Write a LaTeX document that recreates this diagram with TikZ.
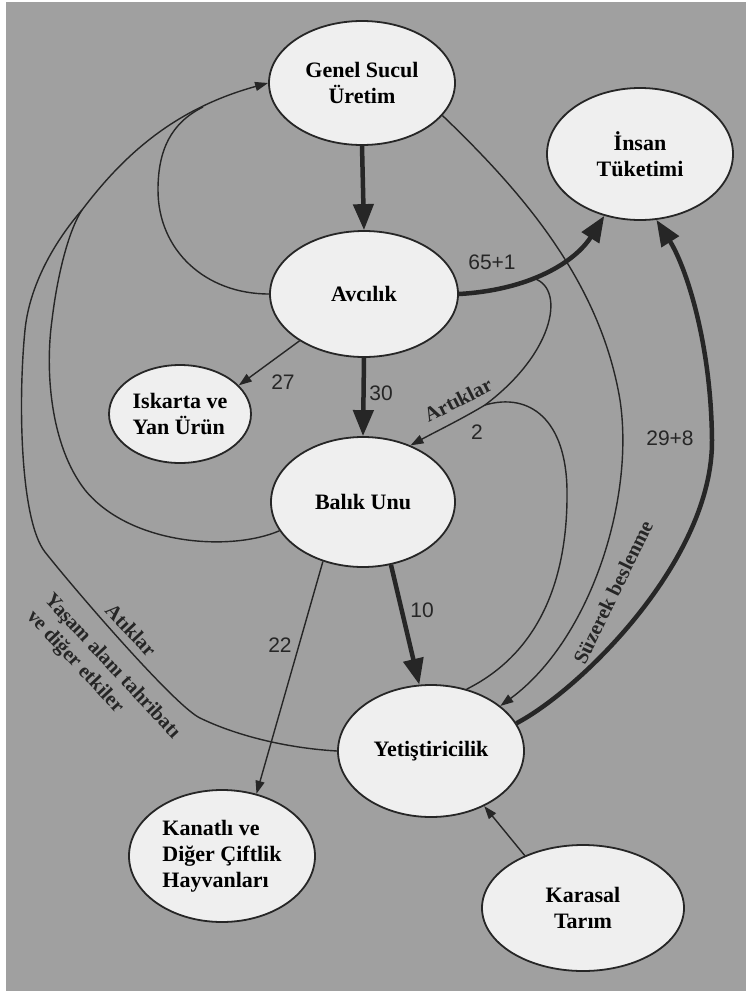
\documentclass[tikz,border=0pt]{standalone}
\usepackage{fontspec}
\setmainfont{Liberation Serif}
\newfontfamily\numfont{Liberation Sans}
\usetikzlibrary{shapes.geometric,arrows.meta}
\definecolor{bg}{HTML}{A0A0A0}
\definecolor{nodefill}{HTML}{EFEFEF}
\definecolor{ink}{HTML}{262626}
\begin{document}
\begin{tikzpicture}[x=1pt,y=-1pt,
  ell/.style={ellipse, draw=ink, line width=1.8pt, fill=nodefill, inner sep=0pt, align=center,
    font=\fontsize{22}{26}\selectfont\bfseries},
  thinline/.style={draw=ink, line width=1.4pt},
  thinarrow/.style={thinline, -{Triangle[length=13pt,width=9pt]}},
  thickarrow/.style={draw=ink, line width=4.5pt, -{Triangle[length=26pt,width=20pt]}},
  numlab/.style={font=\fontsize{21}{24}\numfont, text=ink, inner sep=0pt},
  curvelab/.style={font=\fontsize{20.5}{24}\selectfont\bfseries, text=ink, inner sep=0pt},
]
\useasboundingbox (0,0) rectangle (746,991);
\fill[white] (0,0) rectangle (746,991);
\fill[bg] (6,2) rectangle (746,991);

% nodes
\node[ell, minimum width=186pt, minimum height=124pt] (gen) at (362,83) {Genel Sucul\\Üretim};
\node[ell, minimum width=186pt, minimum height=132pt] (ins) at (640,154) {İnsan\\Tüketimi};
\node[ell, minimum width=188pt, minimum height=126pt] (avc) at (364,294) {Avcılık};
\node[ell, minimum width=142pt, minimum height=98pt, align=left] (isk) at (180,414) {Iskarta ve\\Yan Ürün};
\node[ell, minimum width=184pt, minimum height=130pt] (bal) at (363,502) {Balık Unu};
\node[ell, minimum width=186pt, minimum height=132pt] (yet) at (431,751) {Yetiştiricilik};
\node[ell, minimum width=186pt, minimum height=132pt, align=left] (kan) at (222,856) {Kanatlı ve\\Diğer Çiftlik\\Hayvanları};
\node[ell, minimum width=202pt, minimum height=126pt] (kar) at (583,908) {Karasal\\Tarım};

% junction coordinates
\coordinate (a1) at (532,278);
\coordinate (j1) at (485,405);
\coordinate (m2) at (82,210);
\coordinate (m) at (203,107);

% main flows
\draw[thickarrow] (gen.south) -- (avc.north);
\draw[thickarrow] (avc.east) .. controls (530,290) and (575,262) .. (ins.240);
\draw[thickarrow] (avc.south) -- (bal.north);
\draw[thinarrow] (avc.216) -- (isk.26);
\draw[thickarrow] (bal.-66) -- (yet.100);
\draw[thinarrow] (bal.-124) -- (kan.61);
\draw[thinarrow] (kar.138) -- (yet.-46);
\draw[thickarrow] (yet.18) .. controls (580,690) and (713,560) .. (712,440)
   .. controls (711,340) and (685,265) .. (ins.284);

% Artıklar
\draw[thinarrow] (a1) .. controls (565,285) and (558,350) .. (j1)
   .. controls (460,420) and (435,432) .. (bal.50);
\draw[thinline] (yet.60) .. controls (545,650) and (568,570) .. (567,490)
   .. controls (566,420) and (530,392) .. (j1);

% Süzerek beslenme
\draw[thinarrow] (gen.-22) .. controls (520,190) and (600,280) .. (620,400)
   .. controls (635,500) and (590,640) .. (yet.33);

% left loops back to Genel Sucul Üretim
\draw[thinarrow] (m2) .. controls (120,160) and (170,110) .. (gen.180);
\draw[thinline] (avc.west) .. controls (205,294) and (158,250) .. (158,190)
   .. controls (158,150) and (171,123) .. (m);
\draw[thinline] (bal.199) .. controls (230,552) and (130,545) .. (85,490)
   .. controls (50,445) and (45,370) .. (52,320)
   .. controls (58,270) and (70,228) .. (m2);
\draw[thinline] (yet.west) .. controls (285,748) and (235,735) .. (200,718)
   .. controls (175,706) and (75,590) .. (45,552)
   .. controls (20,520) and (18,400) .. (25,330)
   .. controls (30,280) and (60,235) .. (m2);

% labels
\node[numlab] (l1) at (492,262) {65+1};
\node[numlab] (l2) at (283,382) {27};
\node[numlab] (l3) at (381,393) {30};
\node[numlab] (l4) at (477,432) {2};
\node[numlab] (l5) at (670,438) {29+8};
\node[numlab] (l6) at (422,610) {10};
\node[numlab] (l7) at (280,645) {22};
\node[curvelab, rotate=27] (t1) at (458,400) {Artıklar};
\node[curvelab, rotate=64] (t2) at (613,592) {Süzerek beslenme};
\node[curvelab, rotate=-47] (t3) at (131,630) {Atıklar};
\node[curvelab, rotate=-47, align=left] (t4) at (103,675) {Yaşam alanı tahribatı\\ve diğer etkiler};
\end{tikzpicture}
\end{document}
